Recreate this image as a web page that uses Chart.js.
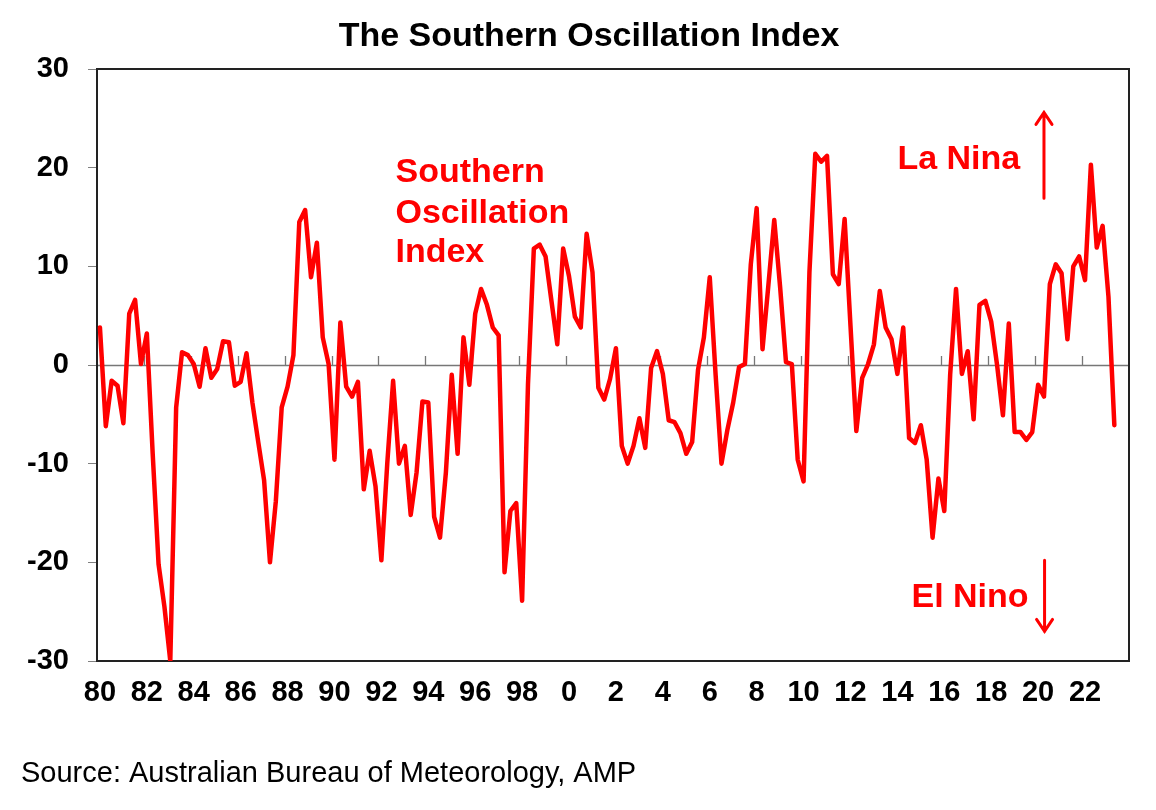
<!DOCTYPE html>
<html>
<head>
<meta charset="utf-8">
<script src="https://cdn.jsdelivr.net/npm/chart.js@4.4.1/dist/chart.umd.min.js"></script>
<style>
  html, body { margin: 0; padding: 0; background: #fff; }
  #wrap { width: 1156px; height: 810px; }
</style>
</head>
<body>
<div id="wrap"><canvas id="soi" width="1156" height="810"></canvas></div>
<script>
// quarterly SOI, 1980 Q1 .. 2023 Q1
const soiValues = [
  3.8, -6.2, -1.6, -2.1, -5.9, 5.2, 6.6, 0.1,          // 80-81
  3.2, -9.0, -20.2, -24.5, -30.0, -4.3, 1.3, 1.0,      // 82-83
  0.1, -2.2, 1.7, -1.3, -0.4, 2.4, 2.3, -2.1,          // 84-85
  -1.7, 1.2, -3.8, -7.8, -11.7, -20.0, -13.8, -4.3,    // 86-87
  -2.2, 1.0, 14.5, 15.7, 8.9, 12.4, 2.8, 0.1,          // 88-89
  -9.6, 4.3, -2.2, -3.2, -1.7, -12.6, -8.7, -12.3,     // 90-91
  -19.8, -10.0, -1.6, -10.0, -8.2, -15.2, -10.9, -3.7, // 92-93
  -3.8, -15.4, -17.5, -10.9, -1.0, -9.0, 2.8, -2.0,    // 94-95
  5.2, 7.7, 6.1, 3.8, 3.0, -21.0, -14.8, -14.0,        // 96-97
  -23.9, -2.0, 11.8, 12.2, 11.0, 6.5, 2.1, 11.8,       // 98-99
  9.0, 4.9, 3.8, 13.3, 9.4, -2.3, -3.5, -1.4,          // 00-01
  1.7, -8.2, -10.0, -8.2, -5.4, -8.4, -0.3, 1.4,       // 02-03
  -0.9, -5.6, -5.8, -6.9, -9.0, -7.8, -0.5, 2.8,       // 04-05
  8.9, -1.0, -10.0, -6.6, -3.8, -0.2, 0.1, 10.2,       // 06-07
  15.9, 1.6, 8.1, 14.7, 7.9, 0.3, 0.1, -9.6,           // 08-09
  -11.8, 9.4, 21.4, 20.6, 21.2, 9.2, 8.2, 14.8,        // 10-11
  4.0, -6.7, -1.3, 0.1, 2.1, 7.5, 3.8, 2.6,            // 12-13
  -0.9, 3.8, -7.4, -7.9, -6.1, -9.6, -17.5, -11.5,     // 14-15
  -14.8, -1.0, 7.7, -0.9, 1.4, -5.5, 6.1, 6.5,         // 16-17
  4.4, 0.0, -5.1, 4.2, -6.8, -6.8, -7.6, -6.8,         // 18-19
  -2.0, -3.2, 8.2, 10.2, 9.3, 2.6, 10.0, 11.0,         // 20-21
  8.6, 20.3, 11.9, 14.1, 6.9, -6.1                     // 22-23
];

// one category per quarter, 1980 Q1 .. 2023 Q4
const quarters = [];
for (let y = 1980; y <= 2023; y++) {
  for (let q = 1; q <= 4; q++) quarters.push(y + ' Q' + q);
}

// one label every 8 quarters
const yearLabels = ['80', '82', '84', '86', '88', '90', '92', '94', '96', '98',
  '0', '2', '4', '6', '8', '10', '12', '14', '16', '18', '20', '22'];

const yTicks = [-30, -20, -10, 0, 10, 20, 30];

// annotation text, placed in data units (quarter index, SOI value)
const seriesNote = [
  { text: 'Southern', i: 50.4, v: 18.5 },
  { text: 'Oscillation', i: 50.4, v: 14.4 },
  { text: 'Index', i: 50.4, v: 10.45 }
];
const phaseNotes = [
  { text: 'La Nina', i: 136.0, v: 19.9, arrowI: 161.0, from: 16.9, to: 25.6 },
  { text: 'El Nino', i: 138.4, v: -24.5, arrowI: 161.1, from: -19.8, to: -27.0 }
];

const FONT = "'Liberation Sans', Arial, Helvetica, sans-serif";
const RED = '#ff0000';

const decorPlugin = {
  id: 'decor',
  beforeDatasetsDraw(chart) {
    const { ctx, chartArea: a, scales: { x, y } } = chart;
    ctx.save();
    // zero line with small ticks between every 8th quarter
    const y0 = y.getPixelForValue(0);
    ctx.strokeStyle = '#777';
    ctx.lineWidth = 1.3;
    ctx.beginPath();
    ctx.moveTo(a.left, y0 + 0.5);
    ctx.lineTo(a.right, y0 + 0.5);
    const half = (x.getPixelForValue(1) - x.getPixelForValue(0)) / 2;
    for (let k = 8; k < quarters.length; k += 8) {
      const px = Math.round(x.getPixelForValue(k) - half) + 0.5;
      ctx.moveTo(px, y0);
      ctx.lineTo(px, y0 - 9);
    }
    ctx.stroke();
    // plot frame
    ctx.strokeStyle = '#222';
    ctx.lineWidth = 2;
    ctx.strokeRect(a.left, a.top, a.right - a.left, a.bottom - a.top);
    ctx.restore();
  },
  afterDraw(chart) {
    const { ctx, scales: { x, y } } = chart;
    ctx.save();
    ctx.textBaseline = 'alphabetic';

    ctx.fillStyle = '#000';
    ctx.font = 'bold 34px ' + FONT;
    ctx.textAlign = 'center';
    ctx.fillText('The Southern Oscillation Index', 589, 46);

    ctx.font = '29px ' + FONT;
    ctx.textAlign = 'left';
    ctx.fillText('Source: Australian Bureau of Meteorology, AMP', 21, 782);

    const xAt = i => x.getPixelForValue(0) + i * (x.getPixelForValue(1) - x.getPixelForValue(0));

    ctx.fillStyle = RED;
    ctx.font = 'bold 34px ' + FONT;
    seriesNote.forEach(n => ctx.fillText(n.text, xAt(n.i), y.getPixelForValue(n.v)));

    ctx.strokeStyle = RED;
    ctx.lineWidth = 3;
    ctx.lineCap = 'round';
    phaseNotes.forEach(n => {
      ctx.fillText(n.text, xAt(n.i), y.getPixelForValue(n.v));
      const ax = xAt(n.arrowI);
      const y1 = y.getPixelForValue(n.from);
      const y2 = y.getPixelForValue(n.to);
      const dir = y2 < y1 ? 1 : -1;
      ctx.beginPath();
      ctx.moveTo(ax, y1);
      ctx.lineTo(ax, y2);
      ctx.moveTo(ax - 8, y2 + dir * 12);
      ctx.lineTo(ax, y2);
      ctx.lineTo(ax + 8, y2 + dir * 12);
      ctx.stroke();
    });
    ctx.restore();
  }
};

new Chart(document.getElementById('soi'), {
  type: 'line',
  data: {
    labels: quarters,
    datasets: [{
      label: 'Southern Oscillation Index',
      data: soiValues,
      borderColor: RED,
      borderWidth: 4.5,
      borderJoinStyle: 'round',
      borderCapStyle: 'round',
      pointRadius: 0,
      tension: 0,
      fill: false
    }]
  },
  options: {
    responsive: false,
    animation: false,
    devicePixelRatio: 1,
    layout: { padding: { top: 69, right: 27, left: 0, bottom: 0 } },
    plugins: {
      legend: { display: false },
      title: { display: false },
      tooltip: { enabled: false }
    },
    scales: {
      x: {
        type: 'category',
        offset: true,
        afterFit: s => { s.height = 149; },
        grid: { display: false, drawTicks: false },
        border: { display: false },
        ticks: {
          autoSkip: false,
          maxRotation: 0,
          minRotation: 0,
          padding: 15,
          color: '#000',
          font: { family: FONT, size: 29, weight: 'bold' },
          callback: (val, idx) => (idx % 8 === 0 ? yearLabels[idx / 8] : null)
        }
      },
      y: {
        min: -30,
        max: 30,
        afterFit: s => { s.width = 97; },
        afterBuildTicks: s => { s.ticks = yTicks.map(v => ({ value: v })); },
        grid: { drawOnChartArea: false, drawTicks: true, tickLength: 9, tickColor: '#808080', tickWidth: 1 },
        border: { display: false },
        ticks: {
          padding: 19,
          color: '#000',
          font: { family: FONT, size: 29, weight: 'bold' }
        }
      }
    }
  },
  plugins: [decorPlugin]
});
</script>
</body>
</html>
